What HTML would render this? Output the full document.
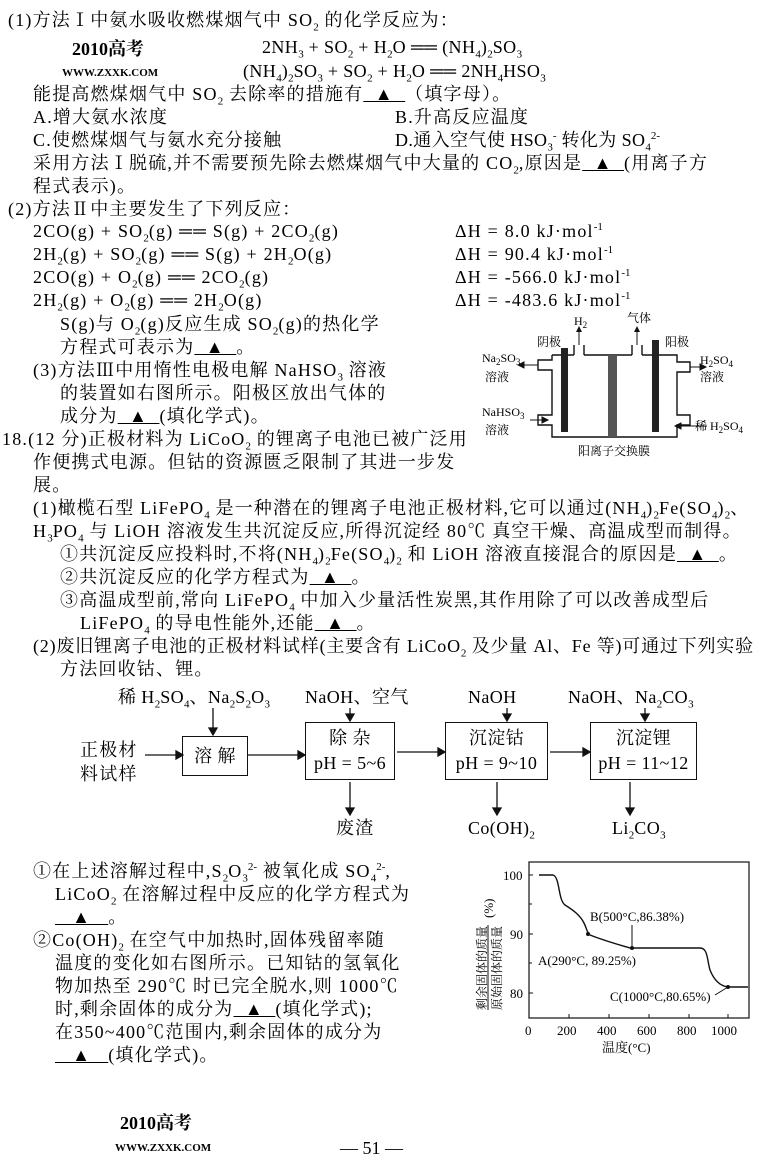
<!DOCTYPE html>
<html><head><meta charset="utf-8"><style>
body{margin:0;background:#fff;}
#p{position:relative;width:760px;height:1167px;overflow:hidden;font-family:"Liberation Serif","Noto Serif CJK SC",serif;font-size:18px;letter-spacing:1.2px;color:#000;}
.l{position:absolute;white-space:nowrap;line-height:22px;}
sub,sup{font-size:11px;line-height:0;letter-spacing:0;}
.b{position:absolute;border:1.5px solid #111;letter-spacing:0.4px;}
svg{letter-spacing:0;}
</style></head><body><div id="p">
<div class="l" style="left:8px;top:9px">(1)方法Ⅰ中氨水吸收燃煤烟气中 SO<sub>2</sub> 的化学反应为：</div>
<div class="l" style="left:262px;top:36px;letter-spacing:0.4px">2NH<sub>3</sub> + SO<sub>2</sub> + H<sub>2</sub>O ══ (NH<sub>4</sub>)<sub>2</sub>SO<sub>3</sub></div>
<div class="l" style="left:243px;top:60px;letter-spacing:0.4px">(NH<sub>4</sub>)<sub>2</sub>SO<sub>3</sub> + SO<sub>2</sub> + H<sub>2</sub>O ══ 2NH<sub>4</sub>HSO<sub>3</sub></div>
<div class="l" style="left:72px;top:38px;font-weight:bold;font-size:18px;letter-spacing:0">2010高考</div>
<div class="l" style="left:62px;top:62px;font-weight:bold;font-size:11px;letter-spacing:0">WWW.ZXXK.COM</div>
<div class="l" style="left:33px;top:83px">能提高燃煤烟气中 SO<sub>2</sub> 去除率的措施有<u>&nbsp;&nbsp;▲&nbsp;&nbsp;</u>（填字母）。</div>
<div class="l" style="left:33px;top:106px">A.增大氨水浓度</div><div class="l" style="left:395px;top:106px">B.升高反应温度</div>
<div class="l" style="left:33px;top:129px">C.使燃煤烟气与氨水充分接触</div><div class="l" style="left:395px;top:129px;letter-spacing:0.4px">D.通入空气使 HSO<sub>3</sub><sup>-</sup> 转化为 SO<sub>4</sub><sup>2-</sup></div>
<div class="l" style="left:33px;top:152px">采用方法Ⅰ脱硫,并不需要预先除去燃煤烟气中大量的 CO<sub>2</sub>,原因是<u>&nbsp;&nbsp;▲&nbsp;&nbsp;</u>(用离子方</div>
<div class="l" style="left:33px;top:175px">程式表示)。</div>
<div class="l" style="left:8px;top:198px">(2)方法Ⅱ中主要发生了下列反应：</div>
<div class="l" style="left:33px;top:220px">2CO(g) + SO<sub>2</sub>(g) ══ S(g) + 2CO<sub>2</sub>(g)</div><div class="l" style="left:455px;top:220px">ΔH = 8.0 kJ·mol<sup>-1</sup></div>
<div class="l" style="left:33px;top:243px">2H<sub>2</sub>(g) + SO<sub>2</sub>(g) ══ S(g) + 2H<sub>2</sub>O(g)</div><div class="l" style="left:455px;top:243px">ΔH = 90.4 kJ·mol<sup>-1</sup></div>
<div class="l" style="left:33px;top:266px">2CO(g) + O<sub>2</sub>(g) ══ 2CO<sub>2</sub>(g)</div><div class="l" style="left:455px;top:266px">ΔH = -566.0 kJ·mol<sup>-1</sup></div>
<div class="l" style="left:33px;top:289px">2H<sub>2</sub>(g) + O<sub>2</sub>(g) ══ 2H<sub>2</sub>O(g)</div><div class="l" style="left:455px;top:289px">ΔH = -483.6 kJ·mol<sup>-1</sup></div>
<div class="l" style="left:60px;top:313px">S(g)与 O<sub>2</sub>(g)反应生成 SO<sub>2</sub>(g)的热化学</div>
<div class="l" style="left:60px;top:336px">方程式可表示为<u>&nbsp;&nbsp;▲&nbsp;&nbsp;</u>。</div>
<div class="l" style="left:33px;top:359px">(3)方法Ⅲ中用惰性电极电解 NaHSO<sub>3</sub> 溶液</div>
<div class="l" style="left:60px;top:382px">的装置如右图所示。阳极区放出气体的</div>
<div class="l" style="left:60px;top:405px">成分为<u>&nbsp;&nbsp;▲&nbsp;&nbsp;</u>(填化学式)。</div>
<div class="l" style="left:2px;top:428px">18.(12 分)正极材料为 LiCoO<sub>2</sub> 的锂离子电池已被广泛用</div>
<div class="l" style="left:33px;top:451px">作便携式电源。但钴的资源匮乏限制了其进一步发</div>
<div class="l" style="left:33px;top:474px">展。</div>
<svg style="position:absolute;left:482px;top:300px" width="270" height="165" font-family="Liberation Serif,Noto Serif CJK SC,serif" font-size="12">
<path d="M70 55 V60 H56 V70 H70 V115 H56 V125 H70 V137 H195 V125 H208 V115 H195 V72 H208 V62 H195 V55 H160 M160 55 V45 M150 55 V45 M150 55 H102 M102 55 V45 M92 55 V45 M92 55 H70" fill="none" stroke="#111" stroke-width="1.4"/>
<rect x="79" y="48" width="7" height="84" fill="#222"/>
<rect x="126" y="55" width="9" height="82" fill="#555"/>
<rect x="170" y="40" width="7" height="92" fill="#222"/>
<path d="M97 45 V30 M155 45 V30" stroke="#111"/>
<path d="M94 32 L97 26 L100 32Z M152 32 L155 26 L158 32Z" fill="#111"/>
<path d="M56 65 H40 M42 62 L36 65 L42 68Z M208 67 H220 M218 64 L224 67 L218 70Z M48 120 H62 M60 117 L66 120 L60 123Z M225 126 H195 M199 123 L193 126 L199 129Z" stroke="#111" fill="#111"/>
<text x="92" y="25">H<tspan font-size="9" dy="3">2</tspan></text>
<text x="145" y="22">气体</text>
<text x="55" y="46">阴极</text><text x="183" y="46">阳极</text>
<text x="0" y="62">Na<tspan font-size="9" dy="3">2</tspan><tspan dy="-3">SO</tspan><tspan font-size="9" dy="3">3</tspan></text>
<text x="3" y="81">溶液</text>
<text x="218" y="64">H<tspan font-size="9" dy="3">2</tspan><tspan dy="-3">SO</tspan><tspan font-size="9" dy="3">4</tspan></text>
<text x="218" y="81">溶液</text>
<text x="0" y="116">NaHSO<tspan font-size="9" dy="3">3</tspan></text>
<text x="3" y="134">溶液</text>
<text x="213" y="130">稀 H<tspan font-size="9" dy="3">2</tspan><tspan dy="-3">SO</tspan><tspan font-size="9" dy="3">4</tspan></text>
<text x="96" y="155">阳离子交换膜</text>
</svg>
<div class="l" style="left:33px;top:497px">(1)橄榄石型 LiFePO<sub>4</sub> 是一种潜在的锂离子电池正极材料,它可以通过(NH<sub>4</sub>)<sub>2</sub>Fe(SO<sub>4</sub>)<sub>2</sub>、</div>
<div class="l" style="left:33px;top:520px">H<sub>3</sub>PO<sub>4</sub> 与 LiOH 溶液发生共沉淀反应,所得沉淀经 80℃ 真空干燥、高温成型而制得。</div>
<div class="l" style="left:60px;top:543px">①共沉淀反应投料时,不将(NH<sub>4</sub>)<sub>2</sub>Fe(SO<sub>4</sub>)<sub>2</sub> 和 LiOH 溶液直接混合的原因是<u>&nbsp;&nbsp;▲&nbsp;&nbsp;</u>。</div>
<div class="l" style="left:60px;top:566px">②共沉淀反应的化学方程式为<u>&nbsp;&nbsp;▲&nbsp;&nbsp;</u>。</div>
<div class="l" style="left:60px;top:589px">③高温成型前,常向 LiFePO<sub>4</sub> 中加入少量活性炭黑,其作用除了可以改善成型后</div>
<div class="l" style="left:80px;top:612px">LiFePO<sub>4</sub> 的导电性能外,还能<u>&nbsp;&nbsp;▲&nbsp;&nbsp;</u>。</div>
<div class="l" style="left:33px;top:635px;letter-spacing:0.8px">(2)废旧锂离子电池的正极材料试样(主要含有 LiCoO<sub>2</sub> 及少量 Al、Fe 等)可通过下列实验</div>
<div class="l" style="left:60px;top:658px">方法回收钴、锂。</div>
<div class="l" style="left:118px;top:686px;letter-spacing:0.4px">稀 H<sub>2</sub>SO<sub>4</sub>、Na<sub>2</sub>S<sub>2</sub>O<sub>3</sub></div>
<div class="l" style="left:305px;top:686px;letter-spacing:0.4px">NaOH、空气</div>
<div class="l" style="left:468px;top:686px;letter-spacing:0.4px">NaOH</div>
<div class="l" style="left:568px;top:686px;letter-spacing:0.4px">NaOH、Na<sub>2</sub>CO<sub>3</sub></div>
<div class="l" style="left:80px;top:738px;line-height:24px">正极材<br>料试样</div>
<div class="b" style="left:182px;top:736px;width:64px;height:38px;text-align:center;line-height:38px">溶 解</div>
<div class="b" style="left:305px;top:722px;width:90px;height:58px;text-align:center;line-height:25px;padding-top:3px;box-sizing:border-box">除 杂<br>pH = 5~6</div>
<div class="b" style="left:445px;top:722px;width:103px;height:58px;text-align:center;line-height:25px;padding-top:3px;box-sizing:border-box">沉淀钴<br>pH = 9~10</div>
<div class="b" style="left:590px;top:722px;width:107px;height:58px;text-align:center;line-height:25px;padding-top:3px;box-sizing:border-box">沉淀锂<br>pH = 11~12</div>
<svg style="position:absolute;left:0;top:0" width="760" height="1167">
<g stroke="#111" stroke-width="1.3" fill="#111">
<path d="M145 755 H178 M213 708 V733 M350 708 V720 M507 708 V720 M645 708 V720 M248 755 H300 M397 752 H440 M550 752 H585 M350 782 V812 M497 782 V812 M630 782 V812"/>
<path d="M176 751 L183 755 L176 759Z M209 728 L213 735 L217 728Z M346 714 L350 721 L354 714Z M503 714 L507 721 L511 714Z M641 714 L645 721 L649 714Z M298 751 L305 755 L298 759Z M438 748 L445 752 L438 756Z M583 748 L590 752 L583 756Z M346 808 L350 815 L354 808Z M493 808 L497 815 L501 808Z M626 808 L630 815 L634 808Z"/>
</g></svg>
<div class="l" style="left:336px;top:817px">废渣</div>
<div class="l" style="left:468px;top:817px;letter-spacing:0.4px">Co(OH)<sub>2</sub></div>
<div class="l" style="left:612px;top:817px;letter-spacing:0.4px">Li<sub>2</sub>CO<sub>3</sub></div>
<div class="l" style="left:33px;top:860px">①在上述溶解过程中,S<sub>2</sub>O<sub>3</sub><sup>2-</sup> 被氧化成 SO<sub>4</sub><sup>2-</sup>,</div>
<div class="l" style="left:55px;top:883px">LiCoO<sub>2</sub> 在溶解过程中反应的化学方程式为</div>
<div class="l" style="left:55px;top:906px"><u>&nbsp;&nbsp;&nbsp;▲&nbsp;&nbsp;&nbsp;</u>。</div>
<div class="l" style="left:33px;top:929px">②Co(OH)<sub>2</sub> 在空气中加热时,固体残留率随</div>
<div class="l" style="left:55px;top:952px">温度的变化如右图所示。已知钴的氢氧化</div>
<div class="l" style="left:55px;top:975px">物加热至 290℃ 时已完全脱水,则 1000℃</div>
<div class="l" style="left:55px;top:998px">时,剩余固体的成分为<u>&nbsp;&nbsp;▲&nbsp;&nbsp;</u>(填化学式);</div>
<div class="l" style="left:55px;top:1021px">在350~400℃范围内,剩余固体的成分为</div>
<div class="l" style="left:55px;top:1044px"><u>&nbsp;&nbsp;&nbsp;▲&nbsp;&nbsp;&nbsp;</u>(填化学式)。</div>
<svg style="position:absolute;left:470px;top:855px" width="290" height="200" font-family="Liberation Serif,Noto Serif CJK SC,serif" font-size="13">
<rect x="59" y="7" width="220" height="156" fill="none" stroke="#111" stroke-width="1.2"/>
<g stroke="#111"><path d="M59 20 h4 M59 79 h4 M59 138 h4 M59 49 h3 M59 108 h3 M99 163 v-4 M139 163 v-4 M179 163 v-4 M219 163 v-4 M258 163 v-4"/></g>
<path d="M69 20 H83 C90 22 88 45 95 50 C103 55 110 60 114 68 C117 74 117 78 120 80 C135 86 150 90 160 93 H230 C238 93 237 105 240 115 C244 125 250 131 258 132 H278" fill="none" stroke="#111" stroke-width="1.4"/>
<circle cx="118" cy="79" r="2" fill="#111"/><circle cx="162" cy="93" r="2" fill="#111"/><circle cx="258" cy="132" r="2" fill="#111"/>
<path d="M162 93 V70 M258 132 L245 140" stroke="#111"/>
<text x="33" y="25">100</text><text x="40" y="84">90</text><text x="40" y="143">80</text>
<text x="55" y="180">0</text><text x="87" y="180">200</text><text x="127" y="180">400</text><text x="167" y="180">600</text><text x="207" y="180">800</text><text x="241" y="180">1000</text>
<text x="132" y="197">温度(°C)</text>
<text x="120" y="66">B(500°C,86.38%)</text>
<text x="68" y="110">A(290°C, 89.25%)</text>
<text x="140" y="146">C(1000°C,80.65%)</text>
<g transform="translate(16,155) rotate(-90)"><text x="0" y="0" font-size="12">剩余固体的质量</text><text x="0" y="15" font-size="12">原始固体的质量</text><text x="92" y="7">(%)</text></g>
<path d="M18 70 V155" stroke="#111"/>
</svg>
<div class="l" style="left:120px;top:1112px;font-weight:bold;font-size:18px;letter-spacing:0">2010高考</div>
<div class="l" style="left:115px;top:1137px;font-weight:bold;font-size:11px;letter-spacing:0">WWW.ZXXK.COM</div>
<div class="l" style="left:340px;top:1137px;letter-spacing:0">— 51 —</div>
</div></body></html>
